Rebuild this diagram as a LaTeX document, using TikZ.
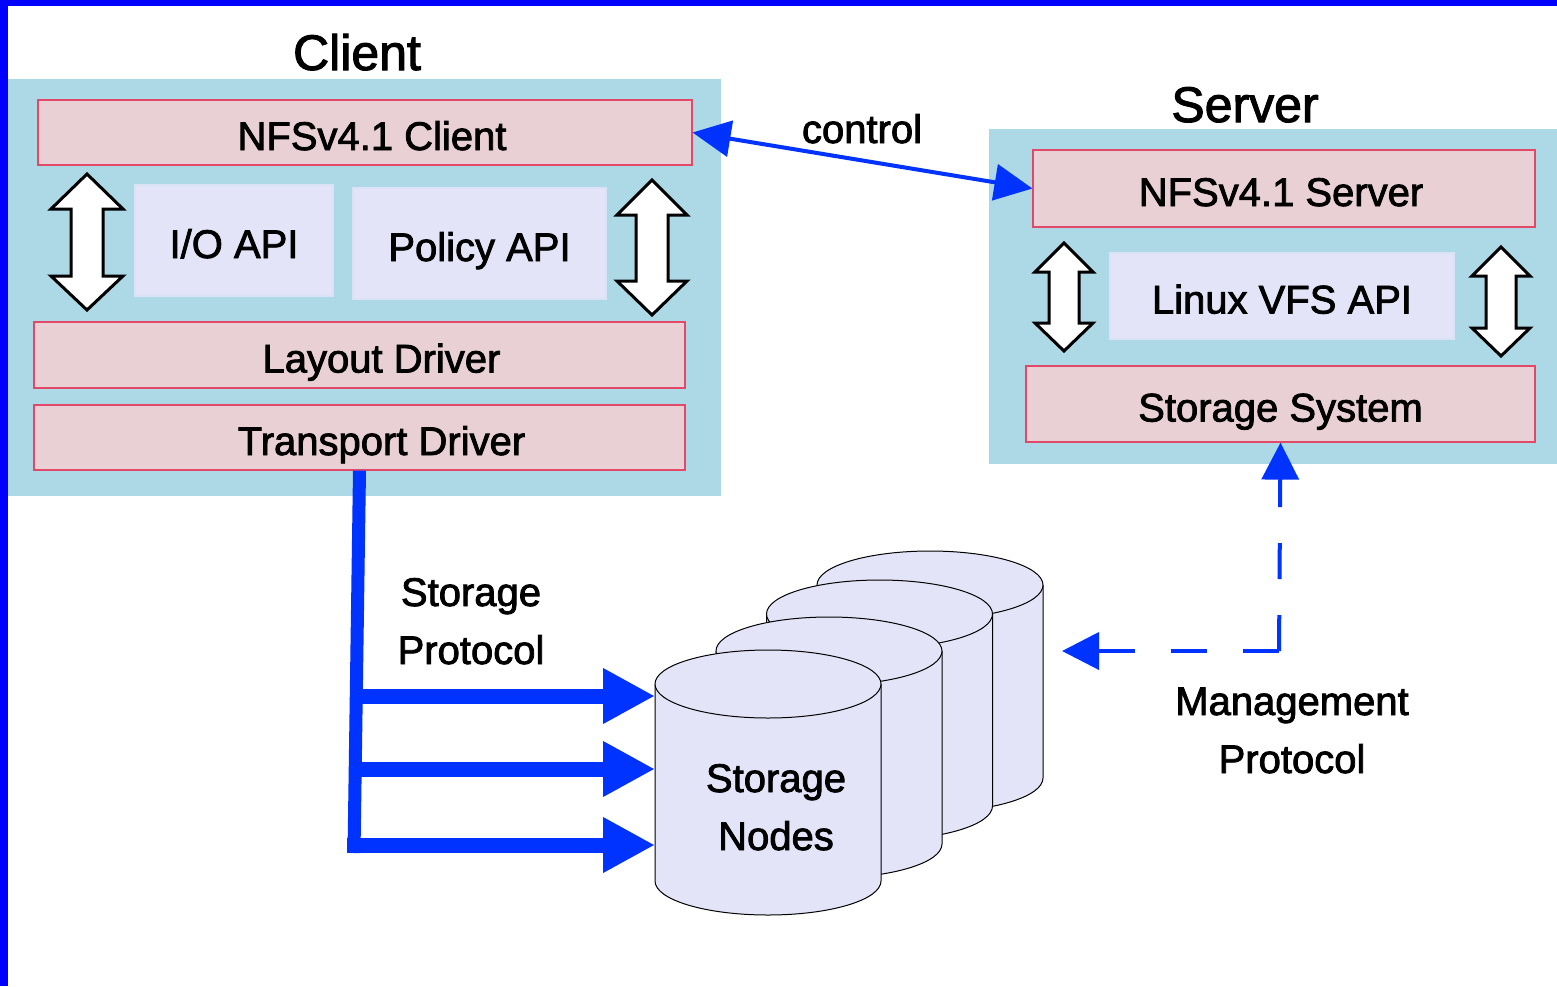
\documentclass[tikz,border=0pt]{standalone}
\usepackage{fontspec}
\setmainfont{Liberation Sans}
\newfontfamily\thicksans{Liberation Sans}[FakeBold=2]
\usetikzlibrary{arrows.meta}
\definecolor{barblue}{RGB}{0,0,255}
\definecolor{arrblue}{RGB}{0,51,255}
\definecolor{contblue}{RGB}{173,216,230}
\definecolor{pinkfill}{RGB}{232,208,212}
\definecolor{pinkline}{RGB}{226,72,104}
\definecolor{lav}{RGB}{228,228,248}
\definecolor{lavline}{RGB}{218,226,246}
\newcommand\titlefnt{\thicksans\fontsize{50}{60}\selectfont}
\newcommand\lblfnt{\thicksans\fontsize{40}{58}\selectfont}
\newcommand\dblarrow[7]{%
  \filldraw[dblarr] (#1,-#2) -- (#1+#6,-#3) -- (#1+#7,-#3) -- (#1+#7,-#4) -- (#1+#6,-#4) -- (#1,-#5) -- (#1-#6,-#4) -- (#1-#7,-#4) -- (#1-#7,-#3) -- (#1-#6,-#3) -- cycle;}
\newcommand\drawcyl[5]{%
  \filldraw[cyl] (#1-#2,-#3) -- (#1-#2,-#4) arc[start angle=180,end angle=360,x radius=#2,y radius=#5] -- (#1+#2,-#3) arc[start angle=0,end angle=180,x radius=#2,y radius=#5] -- cycle;
  \draw[cyl] (#1-#2,-#3) arc[start angle=180,end angle=360,x radius=#2,y radius=#5];}
\tikzset{
  container/.style={fill=contblue, draw=none},
  pinkbox/.style={draw=pinkline, line width=1.2pt, fill=pinkfill, font=\lblfnt, text height=35pt, text depth=0pt, inner sep=0pt},
  lavbox/.style={draw=lavline, line width=1.2pt, fill=lav, font=\lblfnt, text height=35pt, text depth=0pt, inner sep=0pt},
  dblarr/.style={fill=white, draw=black, line width=3pt, line join=miter},
  cyl/.style={fill=lav, draw=black, line width=1pt},
  lbl/.style={font=\lblfnt, inner sep=0pt, align=center},
  ttl/.style={font=\titlefnt, inner sep=0pt},
  ctrlarr/.style={draw=arrblue, line width=4pt, {Triangle[length=38pt,width=36pt]}-{Triangle[length=38pt,width=36pt]}},
  storarr/.style={draw=arrblue, line width=15pt, -{Triangle[length=52pt,width=52pt]}},
  storline/.style={draw=arrblue, line width=13pt},
  mgmtarr/.style={draw=arrblue, line width=4pt, dash pattern=on 36pt off 36pt, -{Triangle[length=37pt,width=37pt]}}
}
\begin{document}
\begin{tikzpicture}[x=1pt,y=1pt]
\useasboundingbox (0,0) rectangle (1557,-986);
\fill[white] (0,0) rectangle (1557,-986);
% frame bars
\fill[barblue] (0,0) rectangle (8,-986);
\fill[barblue] (0,0) rectangle (1557,-6);
% containers
\fill[container] (8,-79) rectangle (721,-496);
\fill[container] (989,-129) rectangle (1557,-464);
% client boxes
\node[pinkbox, minimum width=654, minimum height=65] (nfsc) at (365,-132.5) {\hspace*{14pt}NFSv4.1 Client};
\node[lavbox, minimum width=198, minimum height=111] (ioapi) at (234,-240.5) {I/O API};
\node[lavbox, minimum width=253, minimum height=111] (polapi) at (479.5,-243.5) {Policy API};
\node[pinkbox, minimum width=651, minimum height=66] (layout) at (359.5,-355) {\hspace*{44pt}Layout Driver};
\node[pinkbox, minimum width=651, minimum height=65] (transport) at (359.5,-437.5) {\hspace*{44pt}Transport Driver};
% server boxes
\node[pinkbox, minimum width=502, minimum height=77] (nfss) at (1284,-188.5) {NFSv4.1 Server\hspace*{6pt}};
\node[lavbox, minimum width=344, minimum height=86] (vfs) at (1282,-296) {Linux VFS API};
\node[pinkbox, minimum width=509, minimum height=76] (storsys) at (1280.5,-404) {Storage System};
% double arrows
\dblarrow{87}{174}{209}{276}{310}{36}{16}
\dblarrow{652}{180}{215}{281}{315}{35}{16}
\dblarrow{1064}{243}{272}{323}{351}{29}{15}
\dblarrow{1501}{247}{276}{328}{356}{29}{15}
% titles
\node[ttl, anchor=base] (clienttitle) at (357,-70) {Client};
\node[ttl, anchor=base] (servertitle) at (1245,-122) {Server};
% control
\draw[ctrlarr] (nfsc.east) -- (nfss.west);
\node[lbl, anchor=base] (ctrl) at (862,-143) {control};
% cylinders (back to front)
\drawcyl{930}{113}{585}{778}{34}
\drawcyl{879.5}{113}{614}{806}{34}
\drawcyl{829}{113}{651}{844}{34}
\drawcyl{768}{113}{684}{881}{34}
\node[lbl, anchor=base] (snodes) at (776,-850) {Storage\\Nodes};
% storage protocol
\coordinate (vbot) at (354,-853);
\coordinate (s1) at (655,-696);
\coordinate (s2) at (655,-769);
\coordinate (s3) at (655,-845);
\draw[storline] (transport.south) -- (vbot);
\draw[storarr] (359,-696) -- (s1);
\draw[storarr] (358,-769) -- (s2);
\draw[storarr] (347,-845) -- (s3);
\node[lbl, anchor=base] (sprot) at (471,-664) {Storage\\Protocol};
% management protocol
\coordinate (mcorner) at (1279,-651);
\coordinate (mleft) at (1062,-651);
\draw[mgmtarr] (mcorner) -- (mleft);
\draw[mgmtarr] (mcorner) -- (storsys.south);
\node[lbl, anchor=base] (mprot) at (1292,-773) {Management\\Protocol};
\end{tikzpicture}
\end{document}
